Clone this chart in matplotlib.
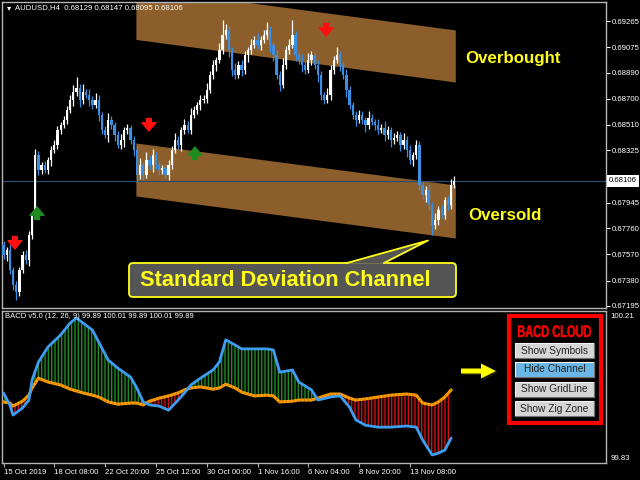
import numpy as np
import matplotlib
matplotlib.use('Agg')
import matplotlib.pyplot as plt
from matplotlib.patches import Polygon, FancyBboxPatch, Rectangle, PathPatch
from matplotlib.textpath import TextPath
from matplotlib.font_manager import FontProperties
from matplotlib.transforms import Affine2D

# ---------------- data ----------------
symbol_info = "AUDUSD,H4  0.68129 0.68147 0.68095 0.68106"
indicator_info = "BACD v5.0 (12, 26, 9) 99.89 100.01 99.89 100.01 99.89"

first_open = 0.67638
closes = [
    0.67565, 0.67602, 0.67457, 0.67348, 0.67297, 0.67457, 0.67565, 0.67529, 0.67711, 0.67856,
    0.68292, 0.68183, 0.68219, 0.68183, 0.68255, 0.68328, 0.68364, 0.68473, 0.68510, 0.68546,
    0.68619, 0.68691, 0.68749, 0.68778, 0.68691, 0.68749, 0.68728, 0.68691, 0.68655, 0.68691,
    0.68582, 0.68473, 0.68437, 0.68546, 0.68510, 0.68437, 0.68364, 0.68401, 0.68473, 0.68488,
    0.68401, 0.68328, 0.68147, 0.68219, 0.68147, 0.68255, 0.68219, 0.68292, 0.68219, 0.68183,
    0.68197, 0.68147, 0.68219, 0.68328, 0.68401, 0.68364, 0.68473, 0.68510, 0.68473, 0.68582,
    0.68619, 0.68655, 0.68691, 0.68700, 0.68764, 0.68873, 0.68945, 0.68982, 0.69054, 0.69163,
    0.69200, 0.69054, 0.68909, 0.68873, 0.68945, 0.68909, 0.69018, 0.69054, 0.69091, 0.69127,
    0.69091, 0.69127, 0.69163, 0.69200, 0.69091, 0.69018, 0.68873, 0.68800, 0.68945, 0.69054,
    0.69091, 0.69163, 0.69018, 0.68982, 0.68945, 0.68909, 0.68982, 0.69018, 0.68945, 0.68873,
    0.68728, 0.68691, 0.68728, 0.68909, 0.68982, 0.69018, 0.68945, 0.68873, 0.68764, 0.68655,
    0.68582, 0.68546, 0.68582, 0.68546, 0.68510, 0.68561, 0.68531, 0.68510, 0.68473, 0.68488,
    0.68437, 0.68473, 0.68401, 0.68415, 0.68437, 0.68364, 0.68401, 0.68328, 0.68255, 0.68292,
    0.68364, 0.68074, 0.68001, 0.68038, 0.67929, 0.67783, 0.67820, 0.67892, 0.67856, 0.67965,
    0.67929, 0.68074, 0.68106,
]
wick_up_pips = [
    3, 2, 4, 2, 3, 2, 3, 4, 3, 2,
    4, 3, 2, 3, 2, 3, 4, 3, 2, 3,
    3, 4, 5, 8, 3, 6, 2, 4, 3, 5,
    4, 2, 3, 5, 3, 2, 3, 4, 2, 3,
    2, 3, 4, 5, 2, 6, 3, 4, 2, 3,
    2, 3, 4, 3, 5, 3, 2, 4, 3, 5,
    3, 2, 4, 3, 5, 3, 4, 2, 5, 11,
    4, 3, 2, 5, 3, 4, 3, 2, 4, 3,
    5, 3, 4, 6, 3, 2, 4, 3, 5, 3,
    4, 11, 3, 2, 4, 3, 5, 3, 2, 4,
    3, 2, 5, 4, 3, 6, 3, 2, 4, 3,
    2, 3, 4, 3, 2, 5, 3, 2, 4, 3,
    5, 3, 2, 4, 3, 2, 5, 3, 4, 2,
    4, 3, 2, 3, 4, 2, 5, 3, 4, 2,
    3, 4, 3,
]
wick_dn_pips = [
    3, 4, 3, 4, 6, 3, 2, 3, 4, 3,
    3, 4, 3, 2, 3, 4, 2, 3, 3, 2,
    3, 2, 4, 3, 5, 3, 2, 4, 3, 2,
    4, 3, 2, 5, 3, 4, 2, 3, 5, 3,
    3, 4, 5, 3, 4, 2, 3, 5, 3, 4,
    3, 2, 4, 3, 2, 3, 4, 3, 2, 3,
    2, 3, 4, 2, 3, 2, 3, 4, 2, 3,
    3, 5, 4, 3, 2, 4, 3, 5, 3, 2,
    3, 4, 2, 3, 5, 4, 3, 4, 2, 3,
    3, 2, 4, 3, 5, 3, 2, 4, 3, 5,
    4, 3, 2, 4, 3, 2, 4, 3, 5, 3,
    3, 4, 2, 3, 5, 3, 2, 4, 3, 2,
    4, 3, 5, 3, 2, 4, 3, 5, 3, 4,
    3, 4, 3, 5, 4, 7, 3, 4, 2, 3,
    4, 3, 2,
]

price_ticks = [0.69265, 0.69075, 0.68890, 0.68700, 0.68510, 0.68325,
               0.67945, 0.67760, 0.67570, 0.67380, 0.67195]
current_price = 0.68106

time_tick_bars = [0, 16, 32, 48, 64, 80, 96, 112, 128]
time_tick_labels = ["15 Oct 2019", "18 Oct 08:00", "22 Oct 20:00", "25 Oct 12:00",
                    "30 Oct 00:00", "1 Nov 16:00", "6 Nov 04:00", "8 Nov 20:00",
                    "13 Nov 08:00"]

channel_bars = [41.7, 142.3]
upper_band_top = [0.69508, 0.69200]
upper_band_bot = [0.69131, 0.68822]
lower_band_top = [0.68379, 0.68074]
lower_band_bot = [0.67994, 0.67689]

sell_bars = [3.6, 45.8, 101.6]
sell_prices = [0.67609, 0.68466, 0.69156]
buy_bars = [10.55, 60.3]
buy_prices = [0.67914, 0.68350]

ind_bars = [0, 2, 3, 6, 8, 9, 11, 14, 18, 21, 23, 25, 28, 30, 33, 36, 40, 42, 44, 46,
            49, 52, 55, 57, 59, 62, 66, 68, 70, 73, 75, 79, 83, 85, 87, 91, 93, 97, 99, 103,
            106, 109, 111, 114, 118, 122, 127, 130, 132, 135, 137, 139, 141]
bacd_line = [100.003, 99.971, 99.944, 99.963, 99.984, 100.037, 100.085, 100.125, 100.157, 100.189,
             100.202, 100.189, 100.170, 100.138, 100.090, 100.069, 100.045, 100.016, 99.979, 99.971,
             99.968, 99.957, 99.984, 100.003, 100.024, 100.042, 100.064, 100.085, 100.144, 100.130,
             100.120, 100.120, 100.120, 100.117, 100.058, 100.064, 100.032, 100.011, 99.984, 99.992,
             99.995, 99.965, 99.931, 99.917, 99.912, 99.912, 99.915, 99.912, 99.878, 99.838,
             99.843, 99.851, 99.883]
signal_line = [99.979, 99.976, 99.968, 99.981, 99.997, 100.016, 100.042, 100.032, 100.024, 100.013,
               100.008, 100.003, 99.997, 99.992, 99.979, 99.973, 99.976, 99.976, 99.971, 99.981,
               99.989, 99.995, 100.003, 100.011, 100.016, 100.019, 100.013, 100.016, 100.026, 100.016,
               100.005, 99.995, 99.997, 99.995, 99.979, 99.981, 99.984, 99.984, 99.989, 100.000,
               100.000, 99.989, 99.984, 99.987, 99.992, 99.997, 100.000, 99.997, 99.976, 99.971,
               99.979, 99.992, 100.011]
ind_ticks = [100.21, 99.83]

panel_title = "BACD CLOUD"
buttons = ["Show Symbols", "Hide Channel", "Show GridLine", "Show Zig Zone"]
overbought_text = "Overbought"
oversold_text = "Oversold"
callout_text = "Standard Deviation Channel"

# ---------------- styling ----------------
W, H = 640, 480
BG = 'black'
FRAME = '#b4b4b4'
BULL = '#ffffff'
BEAR = '#3a8fe2'
CHAN = '#8c5e2c'
YEL = '#ffff1a'
SMALL = 'Liberation Sans'
plt.rcParams['font.family'] = ['Liberation Sans', 'DejaVu Sans']
plt.rcParams['hatch.linewidth'] = 1.0

fig = plt.figure(figsize=(W / 100, H / 100), dpi=100, facecolor=BG)


def frac_box(x0, y0, x1, y1):
    return [x0 / W, 1 - y1 / H, (x1 - x0) / W, (y1 - y0) / H]


PX_PER_BAR = 3.175
BAR0_X = 3.5


def bar_lim(x0, x1):
    return ((x0 - BAR0_X) / PX_PER_BAR, (x1 - BAR0_X) / PX_PER_BAR)


# ---------------- main price panel ----------------
ax = fig.add_axes(frac_box(2, 2, 606, 308))
ax.set_facecolor(BG)
ax.set_xlim(*bar_lim(2, 606))
p_per_px = (0.69265 - 0.67195) / (306 - 21)
ax.set_ylim(0.67195 - (308 - 306) * p_per_px, 0.69265 + (21 - 2) * p_per_px)

for top, bot in [(upper_band_top, upper_band_bot), (lower_band_top, lower_band_bot)]:
    ax.fill_between(channel_bars, bot, top, color=CHAN, linewidth=0, zorder=1)

ax.axhline(current_price, color='#2c4d70', lw=0.9, zorder=2)

n = len(closes)
xs = np.arange(n)
opens = [first_open] + closes[:-1]
highs = [max(o, c) + u * 0.0001 for o, c, u in zip(opens, closes, wick_up_pips)]
lows = [min(o, c) - d * 0.0001 for o, c, d in zip(opens, closes, wick_dn_pips)]
cols = [BULL if c >= o else BEAR for o, c in zip(opens, closes)]
ax.vlines(xs, lows, highs, colors=cols, lw=0.9, zorder=3)
bodies = [max(abs(c - o), 0.00004) for o, c in zip(opens, closes)]
bottoms = [min(o, c) for o, c in zip(opens, closes)]
ax.bar(xs, bodies, bottom=bottoms, width=0.72, color=cols, linewidth=0, zorder=4)

arrow_style = 'simple,head_width=1.0,head_length=0.6,tail_width=0.35'
for b, p in zip(sell_bars, sell_prices):
    ax.annotate('', xy=(b, p), xytext=(0, 9), textcoords='offset points',
                arrowprops=dict(arrowstyle=arrow_style, color='#ff1010',
                                shrinkA=0, shrinkB=0, mutation_scale=10), zorder=6)
for b, p in zip(buy_bars, buy_prices):
    ax.annotate('', xy=(b, p), xytext=(0, -9), textcoords='offset points',
                arrowprops=dict(arrowstyle=arrow_style, color='#1f8a1f',
                                shrinkA=0, shrinkB=0, mutation_scale=10), zorder=6)

ax.yaxis.tick_right()
ax.set_yticks(price_ticks)
ax.set_yticklabels([f"{t:.5f}" for t in price_ticks])
ax.tick_params(axis='y', colors='white', labelsize=5.6, length=3, width=0.8, pad=1.5)
ax.set_xticks([])
for s in ax.spines.values():
    s.set_color(FRAME)
    s.set_linewidth(1)

# ---------------- indicator panel ----------------
ax2 = fig.add_axes(frac_box(2, 311, 606, 463))
ax2.set_facecolor(BG)
ax2.set_xlim(*bar_lim(2, 606))
v_per_px = (100.21 - 99.83) / (458 - 315)
ax2.set_ylim(99.83 - (463 - 458) * v_per_px, 100.21 + (315 - 311) * v_per_px)

bx = np.array(ind_bars, dtype=float)
bl = np.array(bacd_line)
sl = np.array(signal_line)
ax2.fill_between(bx, bl, sl, where=bl >= sl, interpolate=True, facecolor='none',
                 edgecolor='#1e8c1e', hatch='|||||', linewidth=0, zorder=1)
ax2.fill_between(bx, bl, sl, where=bl < sl, interpolate=True, facecolor='none',
                 edgecolor='#d01010', hatch='|||||', linewidth=0, zorder=1)
ax2.plot(bx, sl, color='#ffa200', lw=2.2, zorder=3, solid_capstyle='round')
ax2.plot(bx, sl, color='#c86400', lw=1.2, ls=(0, (0.6, 1.6)), zorder=3)
ax2.plot(bx, bl, color='#3d9df0', lw=2.0, zorder=4, solid_capstyle='round')

ax2.yaxis.tick_right()
ax2.set_yticks(ind_ticks)
ax2.set_yticklabels([f"{t:.2f}" for t in ind_ticks])
ax2.tick_params(axis='y', colors='white', labelsize=5.6, length=0, pad=3)
ax2.set_xticks(time_tick_bars)
ax2.set_xticklabels(time_tick_labels)
ax2.tick_params(axis='x', colors=FRAME, labelcolor='white', labelsize=5.6,
                length=3, width=0.8, pad=1.5)
for lab in ax2.get_xticklabels():
    lab.set_ha('left')
for s in ax2.spines.values():
    s.set_color(FRAME)
    s.set_linewidth(1)

# ---------------- overlay (pixel coordinates) ----------------
ov = fig.add_axes([0, 0, 1, 1])
ov.set_xlim(0, W)
ov.set_ylim(H, 0)
ov.axis('off')
ov.patch.set_alpha(0)

ov.text(7, 7.5, '\u25BE', color='white', fontsize=6, va='center', ha='left',
        family='DejaVu Sans')
ov.text(15, 7.5, symbol_info, color='white', fontsize=5.6, va='center', ha='left')
ov.text(5, 317, indicator_info, color='white', fontsize=5.5, va='center', ha='left')

ov.add_patch(Rectangle((607, 174.5), 32, 12, facecolor='white', edgecolor='none'))
ov.text(609, 180.5, f"{current_price:.5f}", color='black', fontsize=5.6,
        va='center', ha='left')

ov.text(465, 58, overbought_text, color=YEL, fontsize=12.2, fontweight='bold',
        va='center', ha='left')
ov.text(468, 215, oversold_text, color=YEL, fontsize=12.2, fontweight='bold',
        va='center', ha='left')

# callout
ov.add_patch(FancyBboxPatch((129, 263), 327, 34, boxstyle='round,pad=0,rounding_size=4',
                            facecolor='#555555', edgecolor=YEL, lw=1.3, zorder=5))
ov.add_patch(Polygon([(347, 263.8), (384, 263.8), (428, 240.5)], closed=True,
                     facecolor='#555555', edgecolor='none', zorder=6))
ov.plot([347, 428, 384], [263, 240.5, 263], color=YEL, lw=1.3, zorder=7)
ov.text(140, 280.5, callout_text, color=YEL, fontsize=15.7, fontweight='bold',
        va='center', ha='left', zorder=8)

# yellow arrow
ov.add_patch(Polygon([(462, 375), (483, 375), (483, 380), (498, 373), (483, 366),
                      (483, 371), (462, 371)], closed=True, facecolor='#202000',
                     edgecolor='none', zorder=5))
ov.add_patch(Polygon([(461, 373.5), (481, 373.5), (481, 378.5), (496, 371), (481, 363.5),
                      (481, 368.5), (461, 368.5)], closed=True, facecolor='#ffff00',
                     edgecolor='none', zorder=6))

# control panel
ov.add_patch(Rectangle((509, 316), 92, 107, facecolor='black', edgecolor='#ff0000',
                       lw=3, zorder=5))
tp = TextPath((0, 0), panel_title, size=1,
              prop=FontProperties(family='Liberation Sans', weight='bold'))
ext = tp.get_extents()
sx = 73 / ext.width
sy = 12 / 0.716
title_path = Affine2D().translate(-ext.x0, 0).scale(sx, -sy).translate(518, 337).transform_path(tp)
ov.add_patch(PathPatch(title_path, facecolor='#ff0000', edgecolor='#ff0000', lw=0.3, zorder=7))

btn_y = [343, 362, 382, 401]
for label, y0 in zip(buttons, btn_y):
    face = '#6ab6e6' if label.startswith('Hide') else '#d6d6d6'
    ov.add_patch(Rectangle((515, y0), 79, 14.5, facecolor=face, edgecolor='#f4f4f4',
                           lw=0.8, zorder=6))
    ov.plot([515, 594, 594], [y0 + 14.5, y0 + 14.5, y0], color='#707070', lw=0.8, zorder=7)
    ov.text(554.5, y0 + 7.5, label, color='#202020', fontsize=7.3,
            va='center', ha='center', zorder=8)

fig.savefig('out.png', dpi=100, facecolor=BG)
